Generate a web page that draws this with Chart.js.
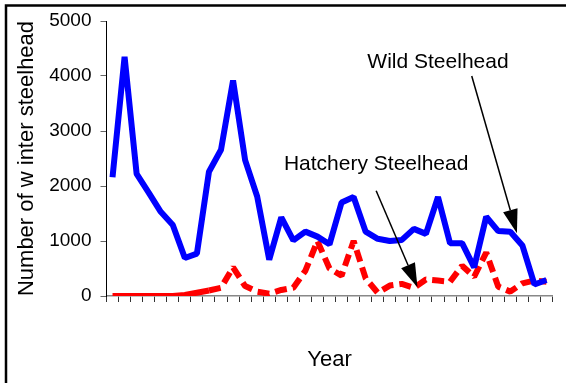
<!DOCTYPE html>
<html>
<head>
<meta charset="utf-8">
<title>Winter steelhead</title>
<script src="https://cdn.jsdelivr.net/npm/chart.js@4.4.1/dist/chart.umd.min.js"></script>
<style>
  html, body { margin: 0; padding: 0; background: #fff; }
  #chart { display: block; }
</style>
</head>
<body>
<canvas id="chart" width="566" height="383"></canvas>
<script>
// return years (labels are not legible in the picture, so they stay hidden)
var years = ['1967', '1968', '1969', '1970', '1971', '1972', '1973', '1974', '1975', '1976',
             '1977', '1978', '1979', '1980', '1981', '1982', '1983', '1984', '1985', '1986',
             '1987', '1988', '1989', '1990', '1991', '1992', '1993', '1994', '1995', '1996',
             '1997', '1998', '1999', '2000', '2001', '2002', '2003'];

var wildSteelhead = [2160, 4350, 2220, 1880, 1530, 1290, 690, 770, 2260, 2660,
                     3920, 2470, 1810, 660, 1430, 1010, 1170, 1080, 940, 1700,
                     1800, 1170, 1040, 1000, 1020, 1220, 1130, 1800, 960, 960,
                     520, 1440, 1180, 1170, 920, 210, 290];

var hatcherySteelhead = [0, 0, 0, 0, 0, 0, 20, 60, 100, 150,
                         520, 180, 80, 40, 110, 150, 460, 1000, 500, 370,
                         1000, 320, 60, 190, 220, 150, 300, 280, 260, 550,
                         350, 790, 170, 80, 230, 280, 260];

var yTicks = [0, 1000, 2000, 3000, 4000, 5000];

var FONT = '"Liberation Sans", Arial, sans-serif';

// callouts, placed in data units (category index, count)
var callouts = [
    { text: 'Wild Steelhead', label: [27.0, 4140], from: [29.8, 4000], to: [33.55, 1140] },
    { text: 'Hatchery Steelhead', label: [21.87, 2290], from: [21.87, 1915], to: [25.3, 158] }
];

var framePlugin = {
    id: 'frame',
    beforeDraw: function(chart) {
        var c = chart.ctx;
        c.save();
        c.fillStyle = '#fff';
        c.fillRect(0, 0, chart.width, chart.height);
        c.strokeStyle = '#000';
        c.lineWidth = 2.5;
        c.beginPath();
        c.moveTo(6, chart.height + 5);
        c.lineTo(6, 5.5);
        c.lineTo(chart.width + 5, 5.5);
        c.stroke();
        c.restore();
    }
};

var calloutPlugin = {
    id: 'callouts',
    afterDatasetsDraw: function(chart) {
        var c = chart.ctx;
        var xs = chart.scales.x, ys = chart.scales.y;
        c.save();
        callouts.forEach(function(n) {
            c.font = '21px ' + FONT;
            c.fillStyle = '#000';
            c.textAlign = 'center';
            c.textBaseline = 'alphabetic';
            c.fillText(n.text, xs.getPixelForValue(n.label[0]), ys.getPixelForValue(n.label[1]));

            var x0 = xs.getPixelForValue(n.from[0]), y0 = ys.getPixelForValue(n.from[1]);
            var x1 = xs.getPixelForValue(n.to[0]), y1 = ys.getPixelForValue(n.to[1]);
            var ang = Math.atan2(y1 - y0, x1 - x0);
            var len = 24, half = 7.5;
            var bx = x1 - len * Math.cos(ang), by = y1 - len * Math.sin(ang);
            c.strokeStyle = '#000';
            c.lineWidth = 1.5;
            c.beginPath();
            c.moveTo(x0, y0);
            c.lineTo(bx, by);
            c.stroke();
            c.beginPath();
            c.moveTo(x1, y1);
            c.lineTo(bx + half * Math.sin(ang), by - half * Math.cos(ang));
            c.lineTo(bx - half * Math.sin(ang), by + half * Math.cos(ang));
            c.closePath();
            c.fill();
        });
        c.restore();
    }
};

var ctx = document.getElementById('chart').getContext('2d');
new Chart(ctx, {
    type: 'line',
    data: {
        labels: years,
        datasets: [{
            label: 'Hatchery Steelhead',
            data: hatcherySteelhead,
            borderColor: '#ff0000',
            borderWidth: 6,
            borderDash: [12, 6],
            borderCapStyle: 'butt',
            borderJoinStyle: 'bevel',
            segment: {
                borderDash: function(s) { return s.p1DataIndex <= 8 ? [] : [12, 6]; }
            },
            pointRadius: 0,
            tension: 0,
            fill: false,
            order: 2
        }, {
            label: 'Wild Steelhead',
            data: wildSteelhead,
            borderColor: '#0000ff',
            borderWidth: 6,
            borderJoinStyle: 'bevel',
            pointRadius: 0,
            tension: 0,
            fill: false,
            order: 1
        }]
    },
    options: {
        responsive: false,
        animation: false,
        layout: { padding: { left: 0, top: 21, right: 13.5, bottom: 0 } },
        plugins: {
            legend: { display: false },
            tooltip: { enabled: false }
        },
        scales: {
            x: {
                type: 'category',
                offset: true,
                afterFit: function(s) { s.height = 87; },
                grid: {
                    offset: true,
                    drawOnChartArea: false,
                    drawTicks: true,
                    tickLength: 6,
                    color: '#333'
                },
                border: { color: '#888', width: 1.5 },
                ticks: { display: false, autoSkip: false },
                title: {
                    display: true,
                    text: 'Year',
                    color: '#000',
                    font: { family: FONT, size: 22 },
                    padding: { top: 0, bottom: 10 }
                }
            },
            y: {
                min: 0,
                max: 5000,
                afterFit: function(s) { s.width = 106.5; },
                afterBuildTicks: function(s) {
                    s.ticks = yTicks.map(function(v) { return { value: v }; });
                },
                grid: {
                    drawOnChartArea: false,
                    drawTicks: true,
                    tickLength: 6,
                    color: '#666'
                },
                border: { color: '#000', width: 1 },
                ticks: {
                    color: '#000',
                    padding: 9,
                    font: { family: FONT, size: 19 },
                    callback: function(v) { return String(v); }
                },
                title: {
                    display: true,
                    text: 'Number of w inter steelhead',
                    color: '#000',
                    font: { family: FONT, size: 22 },
                    padding: { top: 14, bottom: 0 }
                }
            }
        }
    },
    plugins: [framePlugin, calloutPlugin]
});
</script>
</body>
</html>
